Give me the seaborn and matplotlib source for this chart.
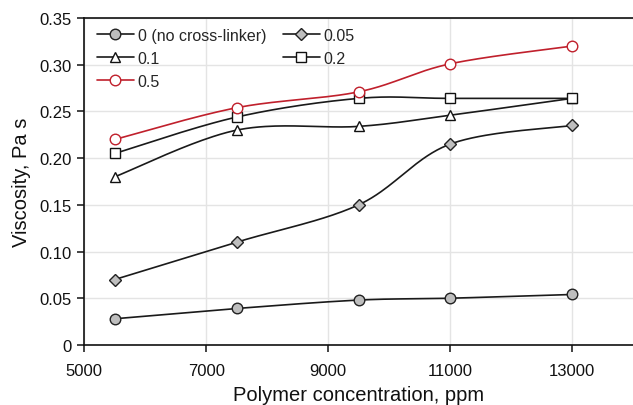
import numpy as np
import pandas as pd
import matplotlib
matplotlib.use("Agg")
import matplotlib.pyplot as plt
import seaborn as sns

# Polymer concentration (ppm) and viscosity (Pa s) for each cross-linker level
concentration = [5500, 7500, 9500, 11000, 13000]
visc_0 = [0.028, 0.039, 0.048, 0.050, 0.054]
visc_005 = [0.070, 0.110, 0.150, 0.215, 0.235]
visc_01 = [0.180, 0.230, 0.234, 0.246, 0.264]
visc_02 = [0.205, 0.244, 0.264, 0.264, 0.264]
visc_05 = [0.220, 0.254, 0.271, 0.301, 0.320]
series_labels = ["0 (no cross-linker)", "0.05", "0.1", "0.2", "0.5"]

x_ticks = [5000, 7000, 9000, 11000, 13000]
y_ticks = [0, 0.05, 0.10, 0.15, 0.20, 0.25, 0.30, 0.35]
y_ticklabels = ["0", "0.05", "0.10", "0.15", "0.20", "0.25", "0.30", "0.35"]


def smooth_curve(xs, ys, n=40):
    """Bezier smoothing through the points (Catmull-Rom style control points)."""
    xs = np.asarray(xs, float)
    ys = np.asarray(ys, float)
    pts = np.column_stack([xs, ys])
    out = []
    for i in range(len(pts) - 1):
        p0 = pts[i - 1] if i > 0 else pts[i]
        p1 = pts[i]
        p2 = pts[i + 1]
        p3 = pts[i + 2] if i + 2 < len(pts) else pts[i + 1]
        c1 = p1 + (p2 - p0) / 6.0
        c2 = p2 - (p3 - p1) / 6.0
        t = np.linspace(0, 1, n)[:, None]
        seg = ((1 - t) ** 3) * p1 + 3 * ((1 - t) ** 2) * t * c1 + 3 * (1 - t) * t ** 2 * c2 + t ** 3 * p2
        if i > 0:
            seg = seg[1:]
        out.append(seg)
    out = np.vstack(out)
    return out[:, 0], out[:, 1]


sns.set_theme(style="white")
plt.rcParams["font.family"] = ["Liberation Sans", "DejaVu Sans"]

fig, ax = plt.subplots(figsize=(6.33, 4.06), dpi=100)
fig.subplots_adjust(left=0.133, right=1.0, top=0.953, bottom=0.148)

styles = [
    dict(marker="o", mfc="#BEBEBE", mec="#222222", color="#1a1a1a", ms=7.6),
    dict(marker="D", mfc="#BEBEBE", mec="#222222", color="#1a1a1a", ms=6.4),
    dict(marker="^", mfc="white", mec="#111111", color="#1a1a1a", ms=7.6),
    dict(marker="s", mfc="white", mec="#111111", color="#1a1a1a", ms=7.4),
    dict(marker="o", mfc="white", mec="#C0202C", color="#C0202C", ms=7.6),
]
all_series = [visc_0, visc_005, visc_01, visc_02, visc_05]

handles = []
for vals, label, st in zip(all_series, series_labels, styles):
    sx, sy = smooth_curve(concentration, vals)
    curve = pd.DataFrame({"x": sx, "y": sy})
    sns.lineplot(data=curve, x="x", y="y", ax=ax, color=st["color"], lw=1.2,
                 sort=False, estimator=None, zorder=2)
    pts = pd.DataFrame({"x": concentration, "y": vals})
    sns.lineplot(data=pts, x="x", y="y", ax=ax, color=st["color"],
                 linestyle="none", marker=st["marker"], markersize=st["ms"],
                 markerfacecolor=st["mfc"], markeredgecolor=st["mec"],
                 markeredgewidth=1.0, estimator=None, zorder=3)
    h, = ax.plot([], [], color=st["color"], lw=1.2, marker=st["marker"], ms=st["ms"],
                 mfc=st["mfc"], mec=st["mec"], mew=1.0, label=label)
    handles.append(h)

ax.set_xlim(5000, 14000)
ax.set_ylim(0, 0.35)
ax.set_xticks(x_ticks)
ax.set_xticklabels([str(v) for v in x_ticks], fontsize=12)
ax.set_yticks(y_ticks)
ax.set_yticklabels(y_ticklabels, fontsize=12)

ax.grid(True, color="#E4E4E4", lw=1)
ax.set_axisbelow(True)
for side in ["left", "bottom", "top"]:
    ax.spines[side].set_visible(True)
    ax.spines[side].set_color("#111111")
    ax.spines[side].set_linewidth(1.2)
ax.spines["right"].set_visible(False)
ax.tick_params(axis="both", direction="out", length=5, width=1.1, color="#111111",
               left=True, bottom=True, labelcolor="#111111")
ax.tick_params(axis="x", pad=8)
ax.tick_params(axis="y", pad=4)

ax.set_xlabel("Polymer concentration, ppm", fontsize=14.5, labelpad=5, color="#111111")
ax.set_ylabel("Viscosity, Pa s", fontsize=14.5, labelpad=6, color="#111111")

# row-wise legend order in two columns
order = [0, 2, 4, 1, 3]
ax.legend([handles[i] for i in order], [series_labels[i] for i in order],
          loc="upper left", ncol=2, frameon=False, fontsize=11.5, handlelength=2.3,
          columnspacing=1.05, labelspacing=0.5, handletextpad=0.25,
          bbox_to_anchor=(0.006, 1.0), borderaxespad=0.2)

fig.savefig("out.png", dpi=100)
